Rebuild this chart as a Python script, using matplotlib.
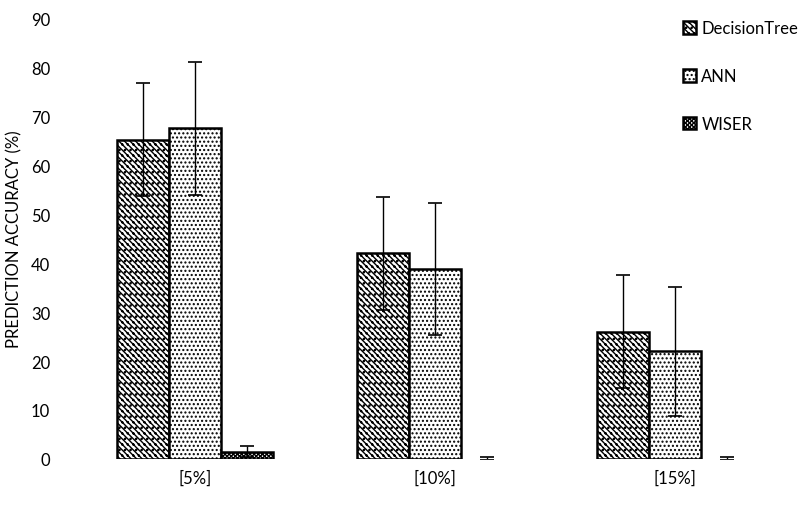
import matplotlib
matplotlib.use("Agg")
import matplotlib.pyplot as plt
import numpy as np

plt.rcParams['font.family'] = ['Lato', 'DejaVu Sans']
plt.rcParams['hatch.linewidth'] = 1.0

groups = ['[5%]', '[10%]', '[15%]']
series = ['DecisionTree', 'ANN', 'WISER']
dt_vals = [65.2, 42.0, 26.0]
dt_err = [11.5, 11.5, 11.5]
ann_vals = [67.5, 38.8, 22.0]
ann_err = [13.5, 13.5, 13.2]
wiser_vals = [1.5, 0.05, 0.05]
wiser_err = [1.2, 0.25, 0.25]

fig = plt.figure(figsize=(8, 5.06), dpi=100)
ax = fig.add_axes([0.094, 0.091, 0.9, 0.871])

x = np.arange(len(groups))
w = 0.217
kw = dict(width=w, edgecolor='black', facecolor='white')
ekw = dict(ecolor='black', elinewidth=1.0, capsize=5, capthick=1.2)
ax.bar(x - w, dt_vals, yerr=dt_err, hatch='\\\\\\\\\\\\...', linewidth=1.8,
       label=series[0], error_kw=ekw, **kw)
ax.bar(x, ann_vals, yerr=ann_err, hatch='....', linewidth=1.8,
       label=series[1], error_kw=ekw, **kw)
ax.bar(x + w, wiser_vals, yerr=wiser_err, hatch='xxxxxxxx', linewidth=[1.8, 0, 0],
       label=series[2], error_kw=ekw, **kw)

ax.set_xlim(-0.5, 2.5)
ax.set_ylim(0, 90)
ax.set_yticks(range(0, 91, 10))
ax.set_xticks(x)
ax.set_xticklabels(groups)
ax.tick_params(length=0, labelsize=12)
ax.tick_params(axis='y', pad=18)
ax.tick_params(axis='x', pad=8)
for s in ax.spines.values():
    s.set_visible(False)
ax.set_ylabel('PREDICTION ACCURACY (%)', fontsize=12, labelpad=6)

ax.legend(loc='upper left', bbox_to_anchor=(0.835, 1.01), frameon=False, fontsize=12,
          handlelength=0.8, handleheight=0.8, handletextpad=0.3, labelspacing=1.9,
          borderaxespad=0)

fig.savefig('out.png', dpi=100)
